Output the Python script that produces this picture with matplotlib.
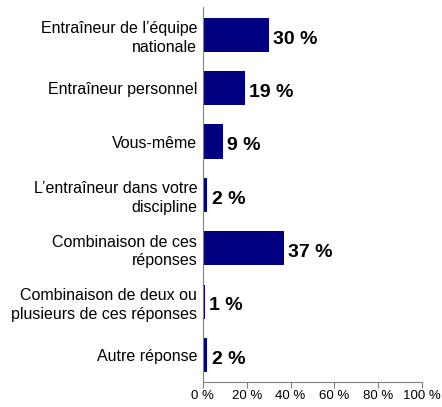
import matplotlib.pyplot as plt

# Data
categories = [
    "Entraîneur de l\u2019équipe\nnationale",
    "Entraîneur personnel",
    "Vous-même",
    "L\u2019entraîneur dans votre\ndiscipline",
    "Combinaison de ces\nréponses",
    "Combinaison de deux ou\nplusieurs de ces réponses",
    "Autre réponse",
]
values = [30, 19, 9, 2, 37, 1, 2]
xticks = [0, 20, 40, 60, 80, 100]

plt.rcParams["font.family"] = ["Liberation Sans", "DejaVu Sans"]

fig = plt.figure(figsize=(4.42, 4.07), dpi=100)
ax = fig.add_axes([0.459, 0.0614, 0.496, 0.922])

ypos = list(range(len(categories)))
ax.barh(ypos, values, height=0.64, color="#000080")
ax.set_ylim(len(categories) - 0.494, -0.525)
ax.set_xlim(0, 100)

for y, v in zip(ypos, values):
    ax.text(v + 2, y + 0.08, f"{v} %", va="center", ha="left",
            fontsize=14, fontweight="bold")

ax.set_yticks(ypos)
ax.set_yticklabels(categories, fontsize=11.5, linespacing=1.3)
ax.tick_params(axis="y", length=0, pad=4)
ax.set_xticks(xticks)
ax.set_xticklabels([f"{t} %" for t in xticks], fontsize=9.5)
ax.tick_params(axis="x", length=4, color="#808080", pad=2)

for s in ["top", "right"]:
    ax.spines[s].set_visible(False)
ax.spines["left"].set_color("#808080")
ax.spines["bottom"].set_color("#808080")

fig.savefig("out.png", dpi=100)
